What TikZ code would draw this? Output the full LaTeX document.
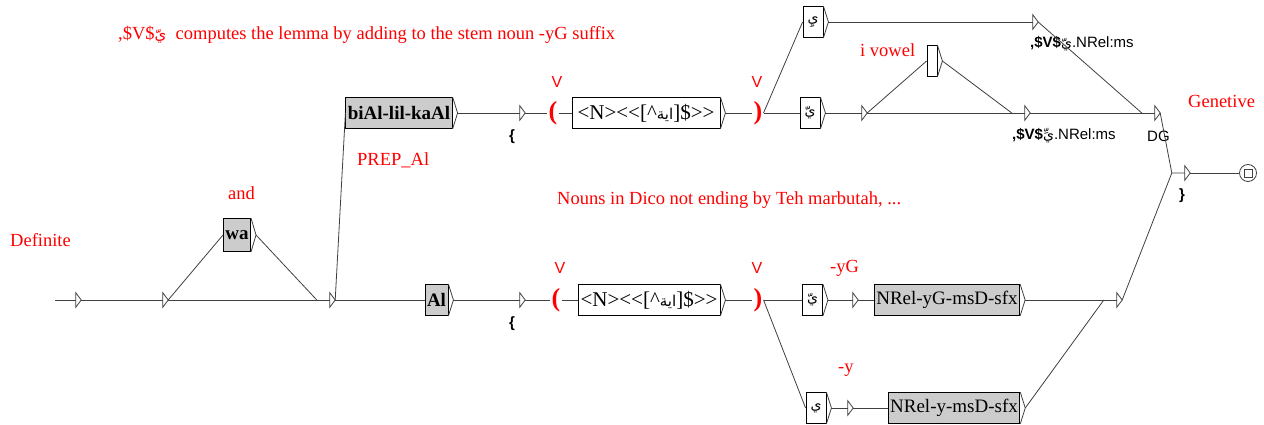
\documentclass[tikz,border=0pt]{standalone}
\usepackage{fontspec}
\setmainfont{Liberation Serif}
\newfontfamily\outfont{Liberation Sans}
\newfontfamily\arabicfont[Script=Arabic]{DejaVu Sans}
\TeXXeTstate=1
\usetikzlibrary{positioning}

\begin{document}
\begin{tikzpicture}[x=1pt, y=-1pt,
    line/.style={draw=black!75, line width=0.8pt},
    graybox/.style={rectangle, draw=black, line width=0.8pt, fill=black!20, minimum height=31, inner xsep=2, inner ysep=0, font=\fontsize{19}{21}\selectfont},
    whitebox/.style={graybox, fill=white},
    patbox/.style={whitebox, font=\fontsize{21}{23}\selectfont},
    arbox/.style={whitebox, minimum width=20, font=\arabicfont\fontsize{14}{16}\selectfont},
    estate/.style={rectangle, minimum width=5, minimum height=14, inner sep=0},
    ctx/.style={text=red, inner sep=1, font=\bfseries\fontsize{26}{28}\selectfont},
    varname/.style={text=red, inner sep=0, font=\outfont\fontsize{16}{18}\selectfont},
    comment/.style={text=red, anchor=west, inner sep=0, font=\fontsize{18.5}{21}\selectfont},
    output/.style={anchor=west, inner sep=0, font=\outfont\fontsize{15}{17}\selectfont}
  ]
  \useasboundingbox (0,0) rectangle (1264,425);

  % comments
  \node[comment] (note) at (118,35) {,\$V\${\arabicfont\fontsize{15}{17}\selectfont يّ}\ \ computes the lemma by adding to the stem noun -yG suffix};
  \node[comment] (definite) at (10,240) {Definite};
  \node[comment] (and) at (228,193) {and};
  \node[comment] (prep) at (357,160) {PREP\_Al};
  \node[comment] (nouns) at (557,200) {Nouns in Dico not ending by Teh marbutah, ...};
  \node[comment] (ivowel) at (860,50) {i vowel};
  \node[comment] (genetive) at (1188,101) {Genetive};
  \node[comment] (yg) at (830,268) {-yG};
  \node[comment] (y) at (838,370) {-y};

  % empty states
  \node[estate] (s0) at (78.5,300) {};
  \node[estate] (s1) at (165.5,300) {};
  \node[estate] (s2) at (332.5,300) {};
  \node[estate] (s3) at (522.5,113) {};
  \node[estate] (s4) at (522.5,300) {};
  \node[estate] (s5) at (864.5,113) {};
  \node[estate] (s6) at (1027.5,113) {};
  \node[estate] (s7) at (1035.5,22) {};
  \node[estate] (s8) at (1157.5,113) {};
  \node[estate] (s9) at (1187.5,173) {};
  \node[estate] (s10) at (850.5,408) {};
  \node[estate] (s11) at (855.5,300) {};
  \node[estate] (s12) at (1119.5,300) {};

  % boxes
  \node[graybox, minimum height=33] (wa) at (237,235) {\bfseries wa};
  \node[graybox] (biAl) at (399,113) {\bfseries biAl-lil-kaAl};
  \node[graybox] (Al) at (436.5,300) {\bfseries Al};
  \node[patbox, minimum width=148] (pat1) at (646,113) {<N>{<}{<}[\textasciicircum{\arabicfont\fontsize{15}{17}\selectfont\beginR اية\endR}]\${>}{>}};
  \node[patbox, minimum width=142] (pat2) at (649,300) {<N>{<}{<}[\textasciicircum{\arabicfont\fontsize{15}{17}\selectfont\beginR اية\endR}]\${>}{>}};
  \node[arbox] (ytop) at (813,22) {يِ};
  \node[arbox] (ymid) at (810,113) {يّ};
  \node[whitebox, minimum width=10] (ivow) at (932,61) {};
  \node[arbox] (ylow) at (812.5,300) {يّ};
  \node[arbox] (ybot) at (816,408) {ي};
  \node[graybox] (nrelyg) at (947,300) {NRel-yG-msD-sfx};
  \node[graybox] (nrely) at (954,408) {NRel-y-msD-sfx};

  % variable brackets
  \node[ctx] (open1) at (553,113) {(};
  \node[ctx] (close1) at (758,113) {)};
  \node[ctx] (open2) at (556,300) {(};
  \node[ctx] (close2) at (758,300) {)};
  \node[varname] (vo1) at (557,82) {V};
  \node[varname] (vc1) at (757,82) {V};
  \node[varname] (vo2) at (560,268) {V};
  \node[varname] (vc2) at (757,268) {V};

  % outputs
  \node[output, font=\bfseries\outfont\fontsize{15}{17}\selectfont] (o3) at (509,137) {\{};
  \node[output, font=\bfseries\outfont\fontsize{15}{17}\selectfont] (o4) at (509,324) {\{};
  \node[output] (o7) at (1030,44) {\textbf{,\$V\$}{\arabicfont\fontsize{14}{16}\selectfont يّ}.NRel:ms};
  \node[output] (o6) at (1012,136) {\textbf{,\$V\$}{\arabicfont\fontsize{14}{16}\selectfont يِّ}.NRel:ms};
  \node[output] (o8) at (1147,136) {DG};
  \node[output, font=\bfseries\outfont\fontsize{15}{17}\selectfont] (o9) at (1179,196) {\}};

  % final state
  \node[circle, draw=black!75, line width=0.8pt, minimum size=17, inner sep=0] (fin) at (1248,173) {};
  \node[draw=black!75, line width=0.8pt, minimum size=8, inner sep=0] (finsq) at (fin) {};
  \coordinate (start) at (55,300);

  % state triangles and box tips
  \foreach \s in {s0,s1,s2,s3,s4,s5,s6,s7,s8,s9,s10,s11,s12}
    \draw[line] (\s.north west) -- (\s.east) -- (\s.south west) -- cycle;
  \foreach \b in {wa,biAl,Al,pat1,pat2,ytop,ymid,ivow,ylow,ybot,nrelyg,nrely}
    \draw[line] (\b.north east) -- ([xshift=5]\b.east) -- (\b.south east);

  % transitions
  \draw[line] (start) -- (s0);
  \draw[line] (s0) -- (s1);
  \draw[line] (s1.east) -- (wa.west);
  \draw[line] (s1) -- (s2);
  \draw[line] ([xshift=5]wa.east) -- ([xshift=-13]s2.west);
  \draw[line] (s2.east) -- (biAl.west);
  \draw[line] (s2) -- (Al);
  \draw[line] ([xshift=5]biAl.east) -- (s3);
  \draw[line] ([xshift=5]Al.east) -- (s4);
  \draw[line] (s3) -- (open1);
  \draw[line] (open1) -- (pat1);
  \draw[line] ([xshift=5]pat1.east) -- (close1);
  \draw[line] (s4) -- (open2);
  \draw[line] (open2) -- (pat2);
  \draw[line] ([xshift=5]pat2.east) -- (close2);
  % upper branch
  \draw[line] (close1.east) -- (ytop.west);
  \draw[line] (close1) -- (ymid);
  \draw[line] ([xshift=5]ytop.east) -- (s7);
  \draw[line] (s7.east) -- ([xshift=-13]s8.west);
  \draw[line] ([xshift=5]ymid.east) -- (s5);
  \draw[line] (s5.east) -- (ivow.west);
  \draw[line] (s5) -- (s6);
  \draw[line] ([xshift=5]ivow.east) -- ([xshift=-13]s6.west);
  \draw[line] (s6) -- (s8);
  \draw[line] (s8.east) -- ([xshift=-13]s9.west) -- (s9.west);
  \draw[line] (s9) -- (fin);
  % lower branch
  \draw[line] (close2) -- (ylow);
  \draw[line] (close2.east) -- (ybot.west);
  \draw[line] ([xshift=5]ylow.east) -- (s11);
  \draw[line] (s11) -- (nrelyg);
  \draw[line] ([xshift=5]ybot.east) -- (s10);
  \draw[line] (s10) -- (nrely);
  \draw[line] ([xshift=5]nrelyg.east) -- (s12);
  \draw[line] ([xshift=5]nrely.east) -- ([xshift=-13]s12.west);
  \draw[line] (s12.east) -- ([xshift=-13]s9.west);
\end{tikzpicture}
\end{document}
